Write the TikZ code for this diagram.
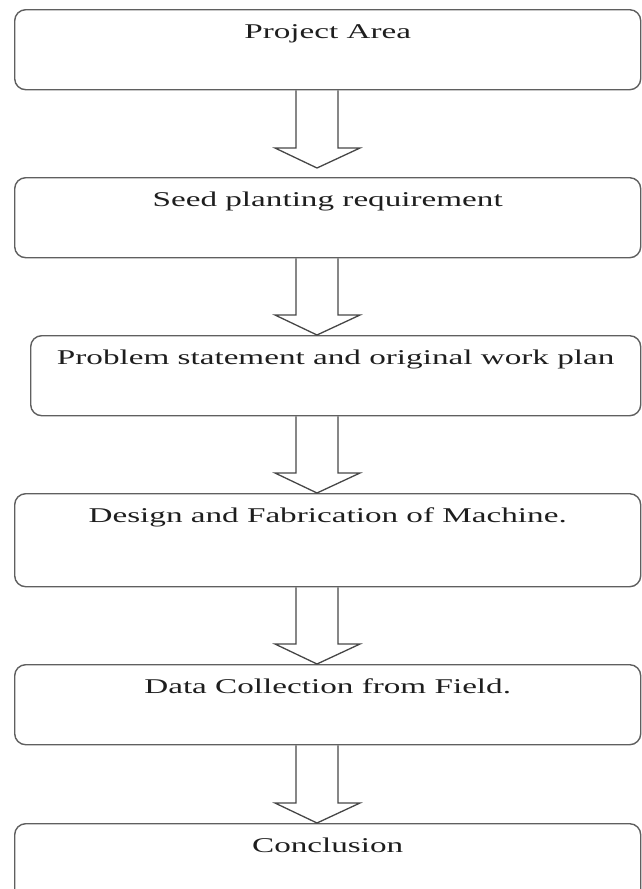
\documentclass[tikz,border=0pt]{standalone}
\usepackage{fontspec}
\newfontfamily\stagefont[FakeStretch=1.58]{Liberation Serif}
\usetikzlibrary{calc}

\definecolor{boxgray}{RGB}{95,95,95}
\definecolor{arrowgray}{RGB}{70,70,70}
\definecolor{textgray}{RGB}{30,30,30}

\tikzset{
  stage/.style={draw=boxgray, line width=1.4pt, rounded corners=11pt, anchor=north west,
    minimum width=626pt, inner xsep=0pt, inner ysep=0pt, text height=29pt, text depth=51pt,
    font=\stagefont\fontsize{21pt}{25pt}\selectfont, text=textgray},
  arrowline/.style={draw=arrowgray, line width=1.3pt, line join=miter}
}

% hollow block arrow from the bottom of a box down to a tip coordinate
\newcommand{\flowarrow}[2]{%
  \draw[arrowline] ($(#1.south -| shaft)+(-21,0)$) -- ($(#2)+(-21,20)$) -- ($(#2)+(-42,20)$)
    -- (#2) -- ($(#2)+(43,20)$) -- ($(#2)+(21,20)$) -- ($(#1.south -| shaft)+(21,0)$);}

\begin{document}
\begin{tikzpicture}[x=1pt,y=1pt]
\useasboundingbox (0,0) rectangle (641,-889);
\coordinate (shaft) at (317,0);

\node[stage] (area) at (14,-9) {Project Area};
\node[stage] (seed) at (14,-177) {Seed planting requirement};
\node[stage, minimum width=610pt] (problem) at (30,-335) {Problem statement and original work plan};
\node[stage, text depth=64pt] (design) at (14,-493) {Design and Fabrication of Machine.};
\node[stage] (field) at (14,-664) {Data Collection from Field.};
\node[stage] (concl) at (14,-823) {Conclusion};

\coordinate (tip1) at ($(seed.north -| shaft)+(0,9)$);
\coordinate (tip2) at (problem.north -| shaft);
\coordinate (tip3) at (design.north -| shaft);
\coordinate (tip4) at (field.north -| shaft);
\coordinate (tip5) at (concl.north -| shaft);

\flowarrow{area}{tip1}
\flowarrow{seed}{tip2}
\flowarrow{problem}{tip3}
\flowarrow{design}{tip4}
\flowarrow{field}{tip5}
\end{tikzpicture}
\end{document}
